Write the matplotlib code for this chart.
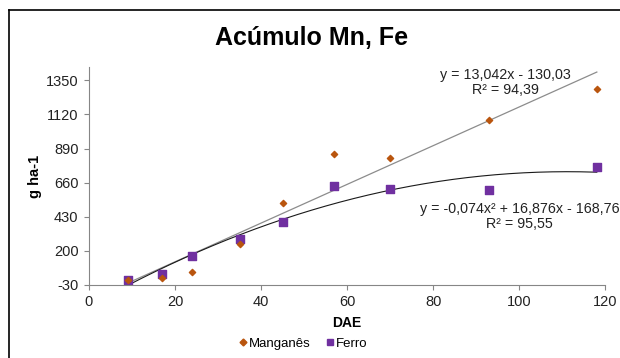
import numpy as np
import matplotlib
matplotlib.use('Agg')
import matplotlib.pyplot as plt
from matplotlib.lines import Line2D

plt.rcParams['font.family'] = ['Liberation Sans', 'DejaVu Sans']
plt.rcParams['axes.unicode_minus'] = False

dae = [9, 17, 24, 35, 45, 57, 70, 93, 118]
manganes = [5, 19, 55, 246, 523, 856, 824, 1080, 1288]
ferro = [2, 42, 163, 281, 396, 634, 616, 611, 768]
yticks = [-30, 200, 430, 660, 890, 1120, 1350]
xticks = [0, 20, 40, 60, 80, 100, 120]

mn_col = '#B9550E'
fe_col = '#7030A0'
axis_col = '#868686'

fig = plt.figure(figsize=(6.2, 3.58), dpi=100)
ax = fig.add_axes([0.1435, 0.204, 0.833, 0.609])

# trend lines
xs = np.linspace(min(dae), max(dae), 200)
lin = np.polyfit(dae, manganes, 1)
ax.plot(xs, np.polyval(lin, xs), color='#8c8c8c', lw=0.9, zorder=1)
quad = np.polyfit(dae, ferro, 2)
ax.plot(xs, np.polyval(quad, xs), color='#1a1a1a', lw=0.8, zorder=1)

ax.scatter(dae, manganes, marker='D', s=10, color=mn_col, zorder=3)
ax.scatter(dae, ferro, marker='s', s=26, color=fe_col, zorder=2)

ax.set_xlim(0, 120)
ax.set_ylim(-30, 1440)
ax.set_xticks(xticks)
ax.set_yticks(yticks)
for s in ['top', 'right']:
    ax.spines[s].set_visible(False)
for s in ['left', 'bottom']:
    ax.spines[s].set_color(axis_col)
    ax.spines[s].set_linewidth(0.8)
ax.tick_params(axis='both', colors=axis_col, labelcolor='#222222',
               labelsize=10.5, length=3.5, width=0.8)
ax.tick_params(axis='y', pad=4)

ax.set_xlabel('DAE', fontsize=10, fontweight='bold', labelpad=5)
ax.set_ylabel('g ha-1', fontsize=10.5, fontweight='bold', labelpad=3)

ax.text(96.7, 1335, 'y = 13,042x - 130,03\nR² = 94,39', ha='center',
        va='center', fontsize=10.3, color='#222222', linespacing=1.1)
ax.text(100, 431, 'y = -0,074x² + 16,876x - 168,76\nR² = 95,55',
        ha='center', va='center', fontsize=10.3, color='#222222',
        linespacing=1.1)

fig.text(0.503, 0.895, 'Acúmulo Mn, Fe', ha='center', va='center',
         fontsize=18, fontweight='bold')

handles = [Line2D([], [], ls='', marker='D', ms=3.5, color=mn_col),
           Line2D([], [], ls='', marker='s', ms=5, color=fe_col)]
fig.legend(handles, ['Manganês', 'Ferro'], loc='center',
           bbox_to_anchor=(0.488, 0.04), ncol=2, frameon=False,
           fontsize=9.5, handletextpad=0.1, columnspacing=1.0,
           handlelength=0.8)

# outer border (top and left visible)
fig.add_artist(Line2D([0.0145, 1.0], [0.972, 0.972], color='black', lw=1.2,
                      transform=fig.transFigure))
fig.add_artist(Line2D([0.0145, 0.0145], [0.0, 0.972], color='black', lw=1.2,
                      transform=fig.transFigure))

fig.savefig('out.png', dpi=100)
